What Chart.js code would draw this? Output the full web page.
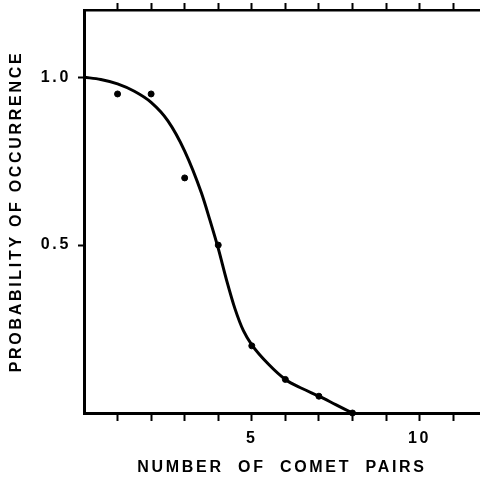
<!DOCTYPE html>
<html>
<head>
<meta charset="utf-8">
<script src="https://cdn.jsdelivr.net/npm/chart.js@4"></script>
<style>
    html, body { margin: 0; padding: 0; background: #fff; }
    #wrap { width: 480px; height: 477px; }
</style>
</head>
<body>
<div id="wrap"><canvas id="comet_chart"></canvas></div>
<script>
// observed points
const pairCounts = [1, 2, 3, 4, 5, 6, 7, 8];
const probabilities = [0.95, 0.95, 0.70, 0.50, 0.20, 0.10, 0.05, 0.0];

// fitted curve
const curveX = [0, 0.5, 1, 1.5, 2, 2.5, 3, 3.5, 3.75, 4, 4.25, 4.5, 4.75, 5, 5.5, 6, 6.5, 7, 7.5, 8];
const curveY = [1.0, 0.993, 0.98, 0.958, 0.925, 0.87, 0.78, 0.655, 0.575, 0.49, 0.395, 0.31, 0.245, 0.203, 0.145, 0.10, 0.073, 0.05, 0.025, 0.0];

// ticks
const xTicks = [1, 2, 3, 4, 5, 6, 7, 8, 9, 10, 11];
const xTickLabels = [5, 10];
const yTicks = [0.5, 1.0];

const font = { family: '"Liberation Sans", Arial, sans-serif', size: 16, weight: 'bold' };

const spacing = {
    id: 'spacing',
    beforeUpdate(chart) { chart.ctx.letterSpacing = '2.7px'; },
    beforeDraw(chart) { chart.ctx.letterSpacing = '2.7px'; }
};

// no extra room for labels at the ends of the axes
function noPad(s) {
    s.paddingTop = 0;
    s.paddingBottom = 0;
    s.paddingLeft = 0;
    s.paddingRight = 0;
}

const ctx = document.getElementById('comet_chart').getContext('2d');
new Chart(ctx, {
    type: 'scatter',
    data: {
        datasets: [
            {
                label: 'curve',
                data: curveX.map((x, i) => ({ x, y: curveY[i] })),
                showLine: true,
                borderColor: '#000',
                borderWidth: 3,
                pointRadius: 0,
                cubicInterpolationMode: 'monotone',
                clip: false
            },
            {
                label: 'observed',
                data: pairCounts.map((x, i) => ({ x, y: probabilities[i] })),
                backgroundColor: '#000',
                borderColor: '#000',
                pointRadius: 3,
                clip: false
            }
        ]
    },
    options: {
        responsive: true,
        maintainAspectRatio: false,
        animation: false,
        // plot runs off the right edge of the picture
        layout: { padding: 0, autoPadding: false },
        plugins: {
            legend: { display: false },
            tooltip: { enabled: false }
        },
        scales: {
            x: {
                type: 'linear',
                position: 'bottom',
                min: 0,
                max: 11.8,
                afterBuildTicks: s => { s.ticks = xTicks.map(v => ({ value: v })); },
                afterFit: s => { s.height = 64; noPad(s); },
                ticks: {
                    callback: v => xTickLabels.includes(v) ? String(v) : '',
                    autoSkip: false,
                    maxRotation: 0,
                    padding: 8,
                    color: '#000',
                    font
                },
                grid: { drawOnChartArea: false, tickLength: 8, tickWidth: 2, tickColor: '#000' },
                border: { display: true, color: '#000', width: 3 },
                title: {
                    display: true,
                    text: 'NUMBER  OF  COMET  PAIRS',
                    color: '#000',
                    font,
                    padding: { top: 0, bottom: 0 }
                }
            },
            x2: {
                type: 'linear',
                position: 'top',
                min: 0,
                max: 11.8,
                afterBuildTicks: s => { s.ticks = xTicks.map(v => ({ value: v })); },
                afterFit: s => { s.height = 10; noPad(s); },
                ticks: { display: false },
                grid: { drawOnChartArea: false, tickLength: 7, tickWidth: 2, tickColor: '#000' },
                border: { display: true, color: '#000', width: 2.5 }
            },
            y: {
                min: 0,
                max: 1.2,
                afterBuildTicks: s => { s.ticks = yTicks.map(v => ({ value: v })); },
                afterFit: s => { s.width = 84; noPad(s); },
                ticks: {
                    callback: v => v.toFixed(1),
                    padding: 7,
                    color: '#000',
                    font
                },
                grid: { drawOnChartArea: false, tickLength: 6, tickWidth: 2, tickColor: '#000' },
                border: { display: true, color: '#000', width: 3 },
                title: {
                    display: true,
                    text: 'PROBABILITY OF OCCURRENCE',
                    color: '#000',
                    font,
                    padding: { top: 7, bottom: 0 }
                }
            }
        }
    },
    plugins: [spacing]
});
</script>
</body>
</html>
